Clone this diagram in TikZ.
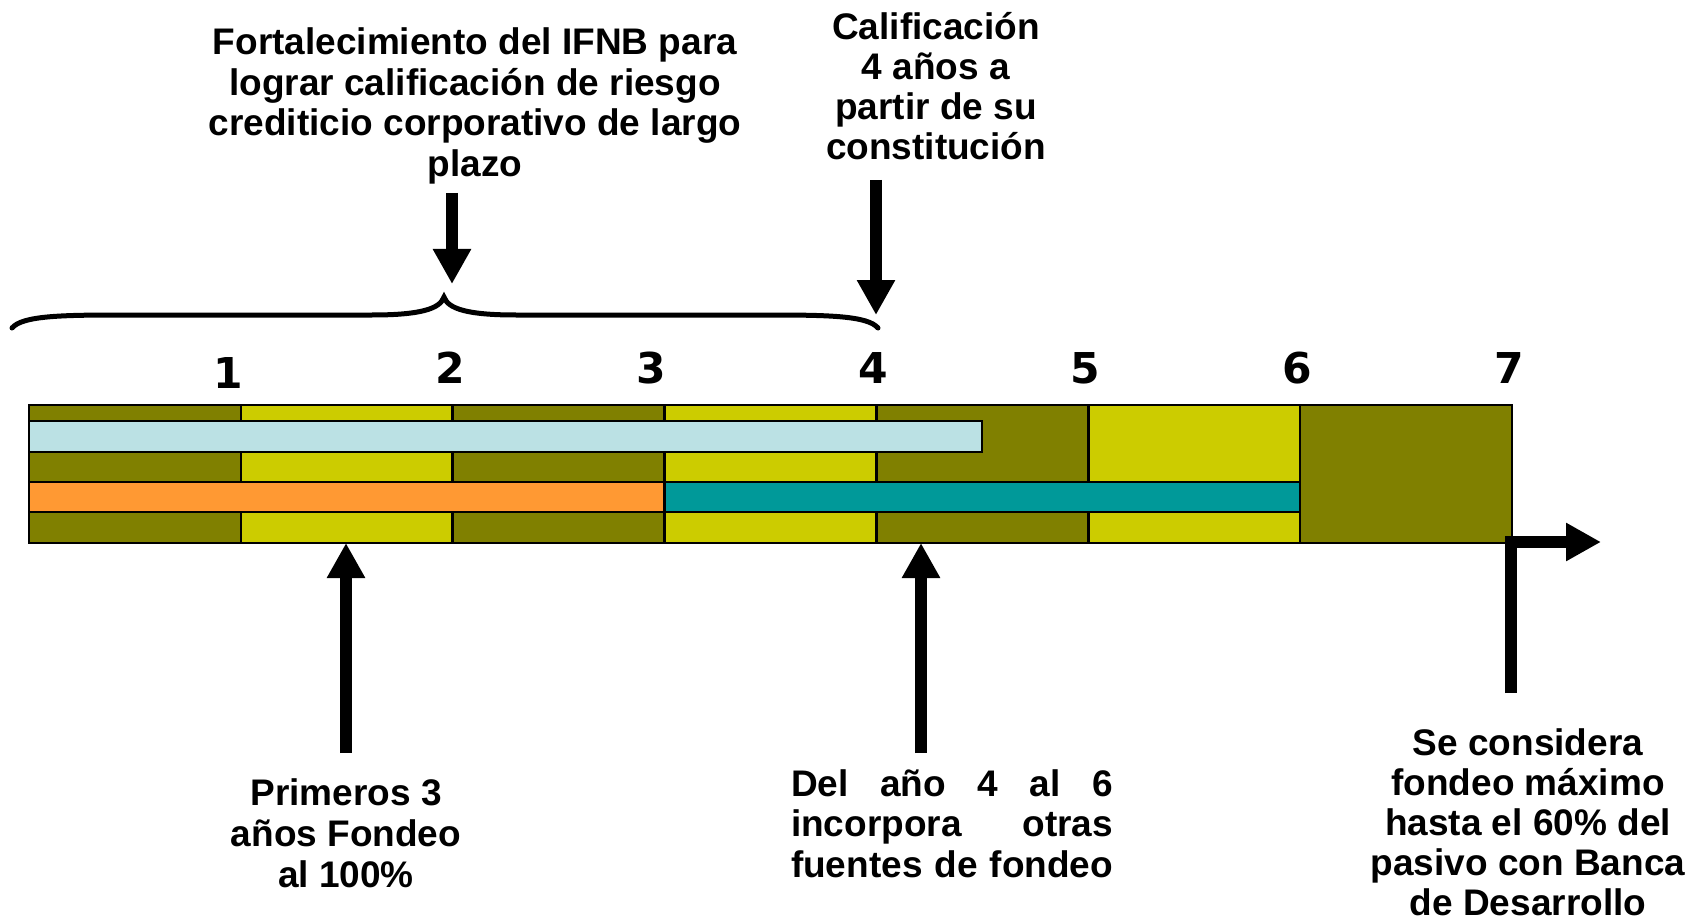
\documentclass[tikz,border=0pt]{standalone}
\usepackage{fontspec}
\setmainfont{Liberation Sans}
\newfontfamily\digitfont{DejaVu Sans}
\usetikzlibrary{arrows.meta}
\definecolor{myolive}{HTML}{808000}
\definecolor{myyellow}{HTML}{CCCC00}
\definecolor{mylblue}{HTML}{BBE1E4}
\definecolor{myorange}{HTML}{FF9933}
\definecolor{myteal}{HTML}{009999}
\begin{document}
\begin{tikzpicture}[x=1pt,y=-1pt,
  cell/.style={draw=black, line width=2.5pt},
  fat/.style={line width=11.5pt, -{Triangle[width=36pt,length=35pt]}},
  lbl/.style={font={\bfseries\fontsize{37}{#1}\selectfont\lineskiplimit=-100pt},
              align=center, inner sep=0pt, anchor=north},
  num/.style={font={\digitfont\bfseries\fontsize{42.5}{45}\selectfont}, inner sep=0pt, anchor=base},
  brace/.style={line width=5pt, line cap=round}]
\useasboundingbox (0,0) rectangle (1703,920);

% columns of the time bar
\foreach \i/\c in {0/myolive,1/myyellow,2/myolive,3/myyellow,4/myolive,5/myyellow,6/myolive}{
  \filldraw[cell, fill=\c] ({29+\i*211.86},405) rectangle ({29+(\i+1)*211.86},543);
}
% bars
\filldraw[cell, fill=mylblue] (29,421) rectangle (982,452);
\filldraw[cell, fill=myorange] (29,482) rectangle (664.6,512);
\filldraw[cell, fill=myteal] (664.6,482) rectangle (1300,512);

% year numbers
\node[num] (n1) at (228,388) {1};
\node[num] (n2) at (450,383) {2};
\node[num] (n3) at (651,383) {3};
\node[num] (n4) at (873,383) {4};
\node[num] (n5) at (1085,383) {5};
\node[num] (n6) at (1297,383) {6};
\node[num] (n7) at (1509,383) {7};

% brace
\draw[brace] (12,328) .. controls (22,316) and (60,315) .. (120,315)
  -- (372,315) .. controls (420,315) and (440,309) .. (444,297)
  .. controls (448,309) and (468,315) .. (516,315)
  -- (770,315) .. controls (830,315) and (868,316) .. (878,328);

% texts
\node[lbl=40.5] (t1) at (475,18.5) {\rule{0pt}{36pt}Fortalecimiento del IFNB para\\lograr calificación de riesgo\\crediticio corporativo de largo\\plazo};
\node[lbl=40] (t2) at (936,3) {\rule{0pt}{36pt}Calificación\\4 años a\\partir de su\\constitución};
\node[lbl=41] (b1) at (346,769) {\rule{0pt}{36pt}Primeros 3\\años Fondeo\\al 100\%};
\node[lbl=40.5] (b2) at (952,760) {\rule{0pt}{36pt}\makebox[322pt][s]{Del año 4 al 6}\\\makebox[322pt][s]{incorpora otras}\\\makebox[322pt][s]{fuentes de fondeo}};
\node[lbl=40] (b3) at (1528,719) {\rule{0pt}{36pt}Se considera\\fondeo máximo\\hasta el 60\% del\\pasivo con Banca\\de Desarrollo};

% arrows
\coordinate (a1s) at (452,193); \coordinate (a1e) at (452,284);
\coordinate (a2s) at (876,180); \coordinate (a2e) at (876,315);
\coordinate (a3s) at (346,753); \coordinate (a3e) at (346,543);
\coordinate (a4s) at (921,753); \coordinate (a4e) at (921,543);
\coordinate (a5s) at (1511,693); \coordinate (a5e) at (1601,542);
\draw[fat] (a1s) -- (a1e);
\draw[fat] (a2s) -- (a2e);
\draw[fat] (a3s) -- (a3e);
\draw[fat] (a4s) -- (a4e);
\draw[fat, line join=miter] (a5s) |- (a5e);
\end{tikzpicture}
\end{document}
